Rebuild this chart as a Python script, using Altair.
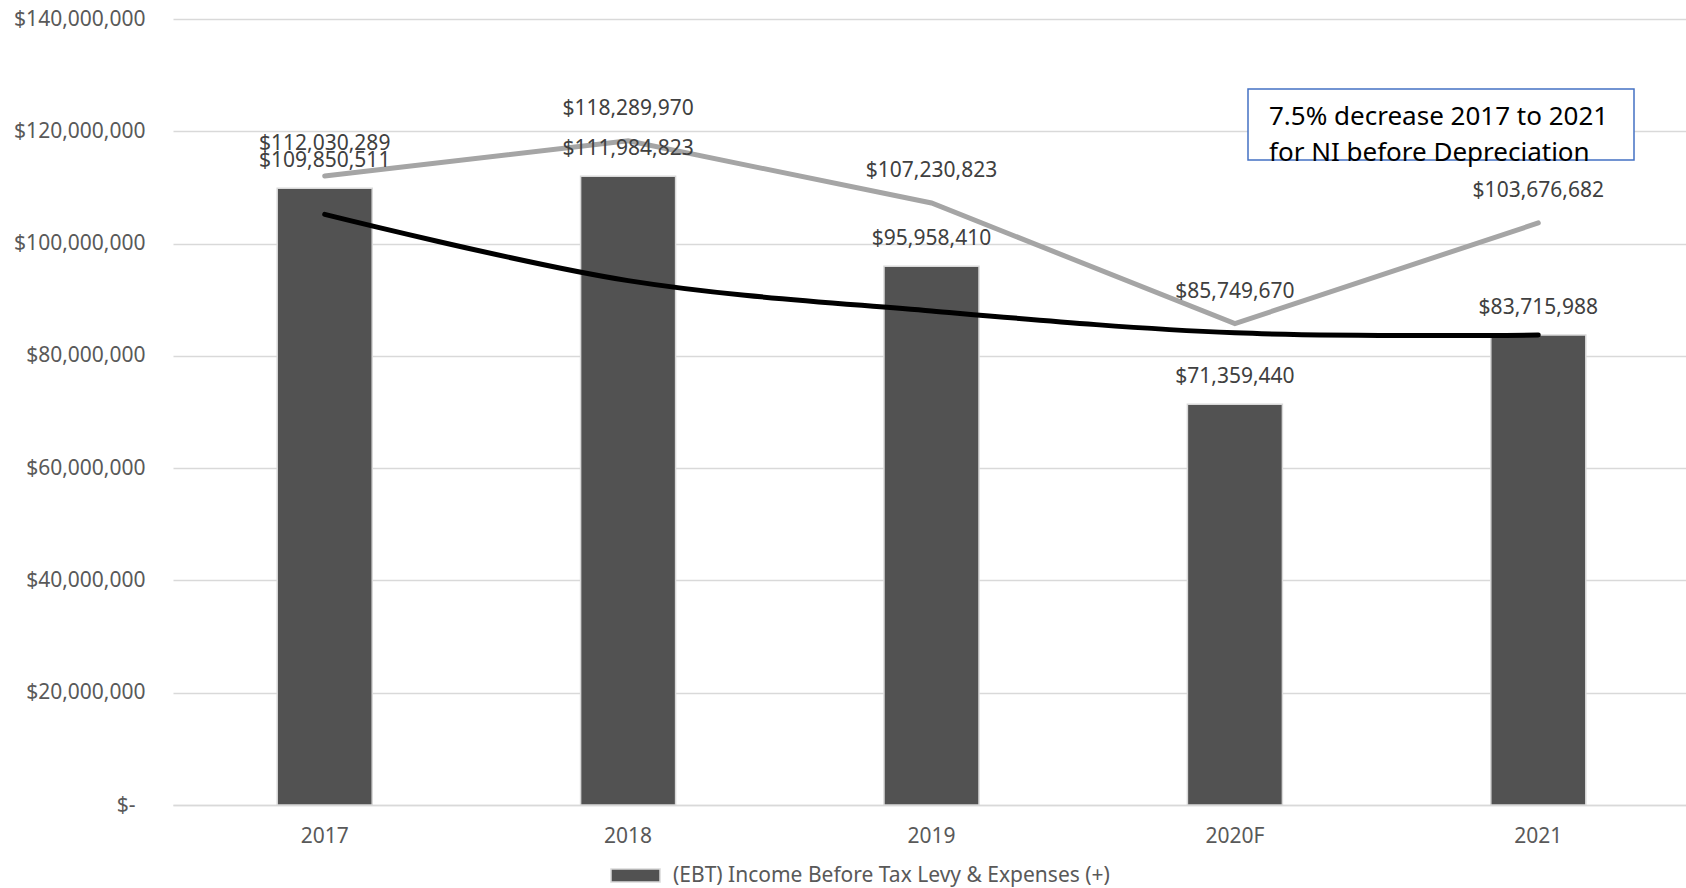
import altair as alt
import pandas as pd

years = ["2017", "2018", "2019", "2020F", "2021"]
ebt = [109850511, 111984823, 95958410, 71359440, 83715988]
ni_before_dep = [112030289, 118289970, 107230823, 85749670, 103676682]
trend = [105200000, 93400000, 88000000, 84100000, 83700000]
y_ticks = [0, 20000000, 40000000, 60000000, 80000000, 100000000, 120000000, 140000000]
bar_series = "(EBT) Income Before Tax Levy & Expenses (+)"
note = "7.5% decrease 2017 to 2021\nfor NI before Depreciation"

df = pd.DataFrame({
    "year": years,
    "ebt": ebt,
    "ni": ni_before_dep,
    "trend": trend,
    "series": [bar_series] * len(years),
})
df["ebt_lbl"] = ["${:,}".format(v) for v in ebt]
df["ni_lbl"] = ["${:,}".format(v) for v in ni_before_dep]

FONT = "Noto Sans"
xscale = alt.Scale(paddingInner=0, paddingOuter=0, range=[1, 1518])
xenc = alt.X("year:N", sort=years, title=None, scale=xscale,
             axis=alt.Axis(labelAngle=0, ticks=False, labelPadding=20,
                           labelFontSize=21, labelColor="#595959", labelFont=FONT,
                           domainColor="#D9D9D9", domainWidth=1.5, grid=False))
yscale = alt.Scale(domain=[0, 140000000])
yaxis = alt.Axis(values=y_ticks, ticks=False, domain=False,
                 labelPadding={"condition": {"test": "datum.value === 0", "value": 37}, "value": 27},
                 labelFontSize=21, labelColor="#595959", labelFont=FONT,
                 gridColor="#D9D9D9", gridWidth=1.5,
                 labelExpr="datum.value == 0 ? '$-' : '$' + format(datum.value, ',')")

base = alt.Chart(df)

bars = base.mark_bar(size=95, stroke="#D9D9D9", strokeWidth=1.5).encode(
    x=xenc,
    y=alt.Y("ebt:Q", scale=yscale, axis=yaxis, title=None),
    color=alt.Color("series:N", scale=alt.Scale(range=["#525252"]),
                    legend=alt.Legend(orient="none", legendX=438, legendY=831,
                                      title=None, padding=0,
                                      symbolType="M-1,-0.27L1,-0.27L1,0.27L-1,0.27Z",
                                      symbolSize=2401, symbolStrokeColor="#D9D9D9",
                                      symbolStrokeWidth=1.5, labelFontSize=21,
                                      labelColor="#595959", labelFont=FONT,
                                      labelOffset=12, labelLimit=800)),
)

gray_line = base.mark_line(color="#A5A5A5", strokeWidth=5, strokeCap="round").encode(
    x=alt.X("year:N", sort=years, scale=xscale), y=alt.Y("ni:Q", scale=yscale, title=None))

black_line = base.mark_line(color="#000000", strokeWidth=5, strokeCap="round",
                            interpolate="catmull-rom").encode(
    x=alt.X("year:N", sort=years, scale=xscale), y=alt.Y("trend:Q", scale=yscale, title=None))

bar_labels = base.mark_text(baseline="middle", dy=-27, fontSize=21, font=FONT,
                            color="#404040").encode(
    x=alt.X("year:N", sort=years, scale=xscale), y=alt.Y("ebt:Q", scale=yscale, title=None),
    text="ebt_lbl:N")

ni_labels = base.mark_text(baseline="middle", dy=-32, fontSize=21, font=FONT,
                           color="#404040").encode(
    x=alt.X("year:N", sort=years, scale=xscale), y=alt.Y("ni:Q", scale=yscale, title=None),
    text="ni_lbl:N")

note_df = pd.DataFrame({"t": [note]})
note_box = alt.Chart(note_df).mark_rect(fill="white", stroke="#4472C4", strokeWidth=1.5).encode(
    x=alt.value(1076), x2=alt.value(1462), y=alt.value(70), y2=alt.value(141))
note_text = alt.Chart(note_df).mark_text(align="left", baseline="middle", fontSize=26,
                                         font=FONT, color="#000000", lineBreak="\n",
                                         lineHeight=36).encode(
    x=alt.value(1097), y=alt.value(98), text="t:N")

chart = alt.layer(bars, gray_line, black_line, bar_labels, ni_labels, note_box, note_text).properties(
    width=1514, height=786,
    autosize=alt.AutoSizeParams(type="none"),
    padding={"left": 172, "top": 19, "right": 0, "bottom": 83},
    background="white",
).configure_view(stroke=None)

chart.save("out.html", embed_options={"renderer": "svg", "actions": False})
